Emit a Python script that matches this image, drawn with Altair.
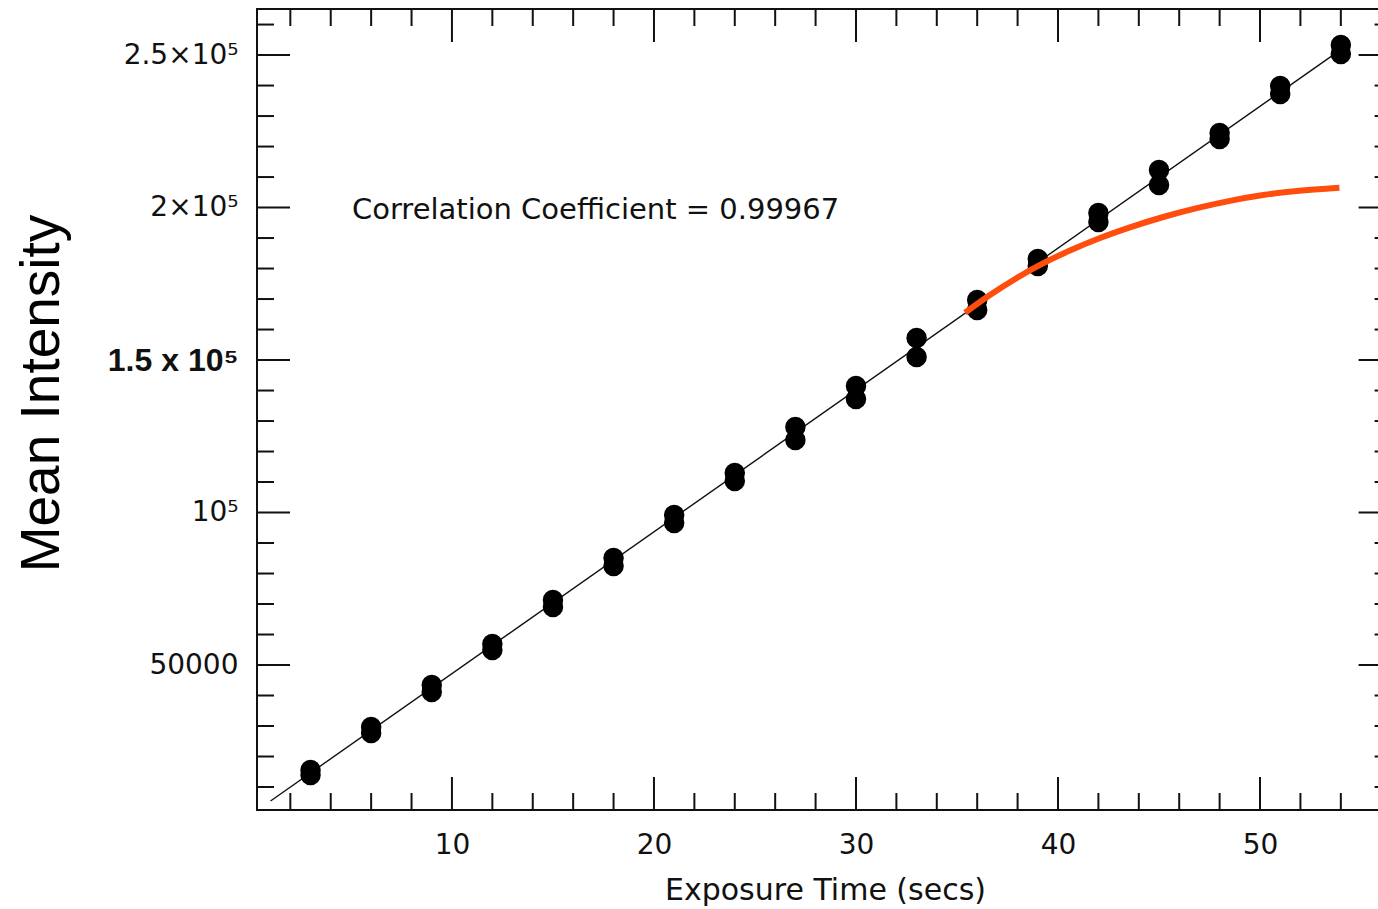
import altair as alt
import pandas as pd

# ---- data ----
exposure = [3, 6, 9, 12, 15, 18, 21, 24, 27, 30, 33, 36, 39, 42, 45, 48, 51, 54]
meas_a = [15570, 29670, 43440, 56890, 71310, 85080, 99180, 112950, 128030,
          141480, 157210, 169670, 183110, 198200, 212300, 224430, 239840, 253280]
meas_b = [13930, 27700, 41150, 54920, 69020, 82460, 96560, 110330, 123770,
          137210, 150980, 166390, 180820, 195250, 207380, 222460, 237210, 250330]

fit_x = [1.02, 54.0]
fit_y = [5410, 251800]

curve_x = [35.40, 36.63, 37.96, 39.11, 40.59, 42.08, 43.56, 45.21, 46.87,
           48.51, 50.16, 51.82, 53.93]
curve_y = [165510, 171300, 176900, 181200, 185900, 190000, 193500, 196900,
           199800, 202200, 204100, 205400, 206500]

annotation_text = ["Correlation Coefficient = 0.99967"]
annotation_x = [5.05]
annotation_y = [196230]

x_label_values = [10, 20, 30, 40, 50]
x_minor_values = [v for v in range(2, 56, 2) if v % 10 != 0]
y_label_values = [50000, 100000, 150000, 200000, 250000]
y_label_texts = ["50000", "10⁵", "1.5 x 10⁵", "2×10⁵", "2.5×10⁵"]
y_minor_values = [v for v in range(10000, 270000, 10000) if v % 50000 != 0]

x_domain = [0.35, 55.84]
y_domain = [2460, 265100]

# ---- layout ----
W, H = 1121, 801
W_FULL = 1134.6          # where the (cropped) right frame edge lies
MAJ, MIN = 33, 17
INK = "#111111"

xs = alt.Scale(domain=x_domain, nice=False, zero=False)
ys = alt.Scale(domain=y_domain, nice=False, zero=False)

pts = pd.DataFrame({
    "t": exposure + exposure,
    "v": meas_a + meas_b,
})
fit = pd.DataFrame({"t": fit_x, "v": fit_y})
curve = pd.DataFrame({"t": curve_x, "v": curve_y})
ann = pd.DataFrame({"t": annotation_x, "v": annotation_y, "label": annotation_text})

label_expr = " : ".join(
    f"datum.value == {v} ? '{s}'" for v, s in zip(y_label_values, y_label_texts)
) + " : ''"

bold_test = "datum.value == 150000"

x_axis = alt.Axis(
    values=x_label_values, ticks=False, domain=False, grid=False,
    labelFont="DejaVu Sans", labelFontSize=28, labelColor=INK, labelPadding=21,
    title="Exposure Time (secs)", titleFont="DejaVu Sans", titleFontSize=30,
    titleFontWeight="normal", titleColor=INK, titleX=568, titleY=89,
    titleBaseline="alphabetic", titleAlign="center",
)
y_axis = alt.Axis(
    values=y_label_values, ticks=False, domain=False, grid=False,
    labelExpr=label_expr, labelPadding=19, labelColor=INK,
    labelFont={"condition": {"test": bold_test, "value": "Liberation Sans, DejaVu Sans"},
               "value": "DejaVu Sans"},
    labelFontSize={"condition": {"test": bold_test, "value": 32}, "value": 28},
    labelFontWeight={"condition": {"test": bold_test, "value": "bold"}, "value": "normal"},
    title="Mean Intensity", titleFont="Liberation Sans", titleFontSize=55,
    titleFontWeight="normal", titleColor="#000000", titleX=-199, titleY=384,
    titleBaseline="alphabetic", titleAlign="center",
)

fit_layer = alt.Chart(fit).mark_line(color=INK, strokeWidth=1.4).encode(
    x=alt.X("t:Q", scale=xs, axis=x_axis),
    y=alt.Y("v:Q", scale=ys, axis=y_axis),
)
pt_layer = alt.Chart(pts).mark_circle(color="#000000", opacity=1, size=420).encode(
    x=alt.X("t:Q", scale=xs), y=alt.Y("v:Q", scale=ys),
)
curve_layer = alt.Chart(curve).mark_line(
    color="#ff4d0d", strokeWidth=6, interpolate="monotone"
).encode(x=alt.X("t:Q", scale=xs), y=alt.Y("v:Q", scale=ys))
text_layer = alt.Chart(ann).mark_text(
    align="left", baseline="alphabetic", font="DejaVu Sans", fontSize=29, color=INK
).encode(x=alt.X("t:Q", scale=xs), y=alt.Y("v:Q", scale=ys), text="label:N")

def xticks(vals, length, top):
    df = pd.DataFrame({"t": vals})
    y0, y1 = (0, length) if top else (H, H - length)
    return alt.Chart(df).mark_rule(color=INK, strokeWidth=2).encode(
        x=alt.X("t:Q", scale=xs), y=alt.value(y0), y2=alt.value(y1))

def yticks(vals, length, right):
    df = pd.DataFrame({"v": vals})
    x0, x1 = (W_FULL, W_FULL - length) if right else (0, length)
    return alt.Chart(df).mark_rule(color=INK, strokeWidth=2).encode(
        y=alt.Y("v:Q", scale=ys), x=alt.value(x0), x2=alt.value(x1))

one = pd.DataFrame({"k": [0]})
frame_top = alt.Chart(one).mark_rule(color=INK, strokeWidth=2).encode(
    x=alt.value(-1), x2=alt.value(W_FULL), y=alt.value(0))
frame_left = alt.Chart(one).mark_rule(color=INK, strokeWidth=2).encode(
    x=alt.value(0), y=alt.value(-1), y2=alt.value(H + 1))
frame_bottom = alt.Chart(one).mark_rule(color=INK, strokeWidth=2).encode(
    x=alt.value(-1), x2=alt.value(W_FULL), y=alt.value(H))

chart = alt.layer(
    fit_layer, pt_layer, curve_layer, text_layer,
    xticks(x_label_values, MAJ, False), xticks(x_minor_values, MIN, False),
    xticks(x_label_values, MAJ, True), xticks(x_minor_values, MIN, True),
    yticks(y_label_values, MAJ, False), yticks(y_minor_values, MIN, False),
    yticks(y_label_values, MAJ, True), yticks(y_minor_values, MIN, True),
    frame_top, frame_left, frame_bottom,
).properties(
    width=W, height=H,
    autosize=alt.AutoSizeParams(type="none"),
    padding={"left": 257, "top": 9, "right": 0, "bottom": 99},
    background="white",
).configure_view(stroke=None)

chart.save("out.html", embed_options={"renderer": "svg", "actions": False})
